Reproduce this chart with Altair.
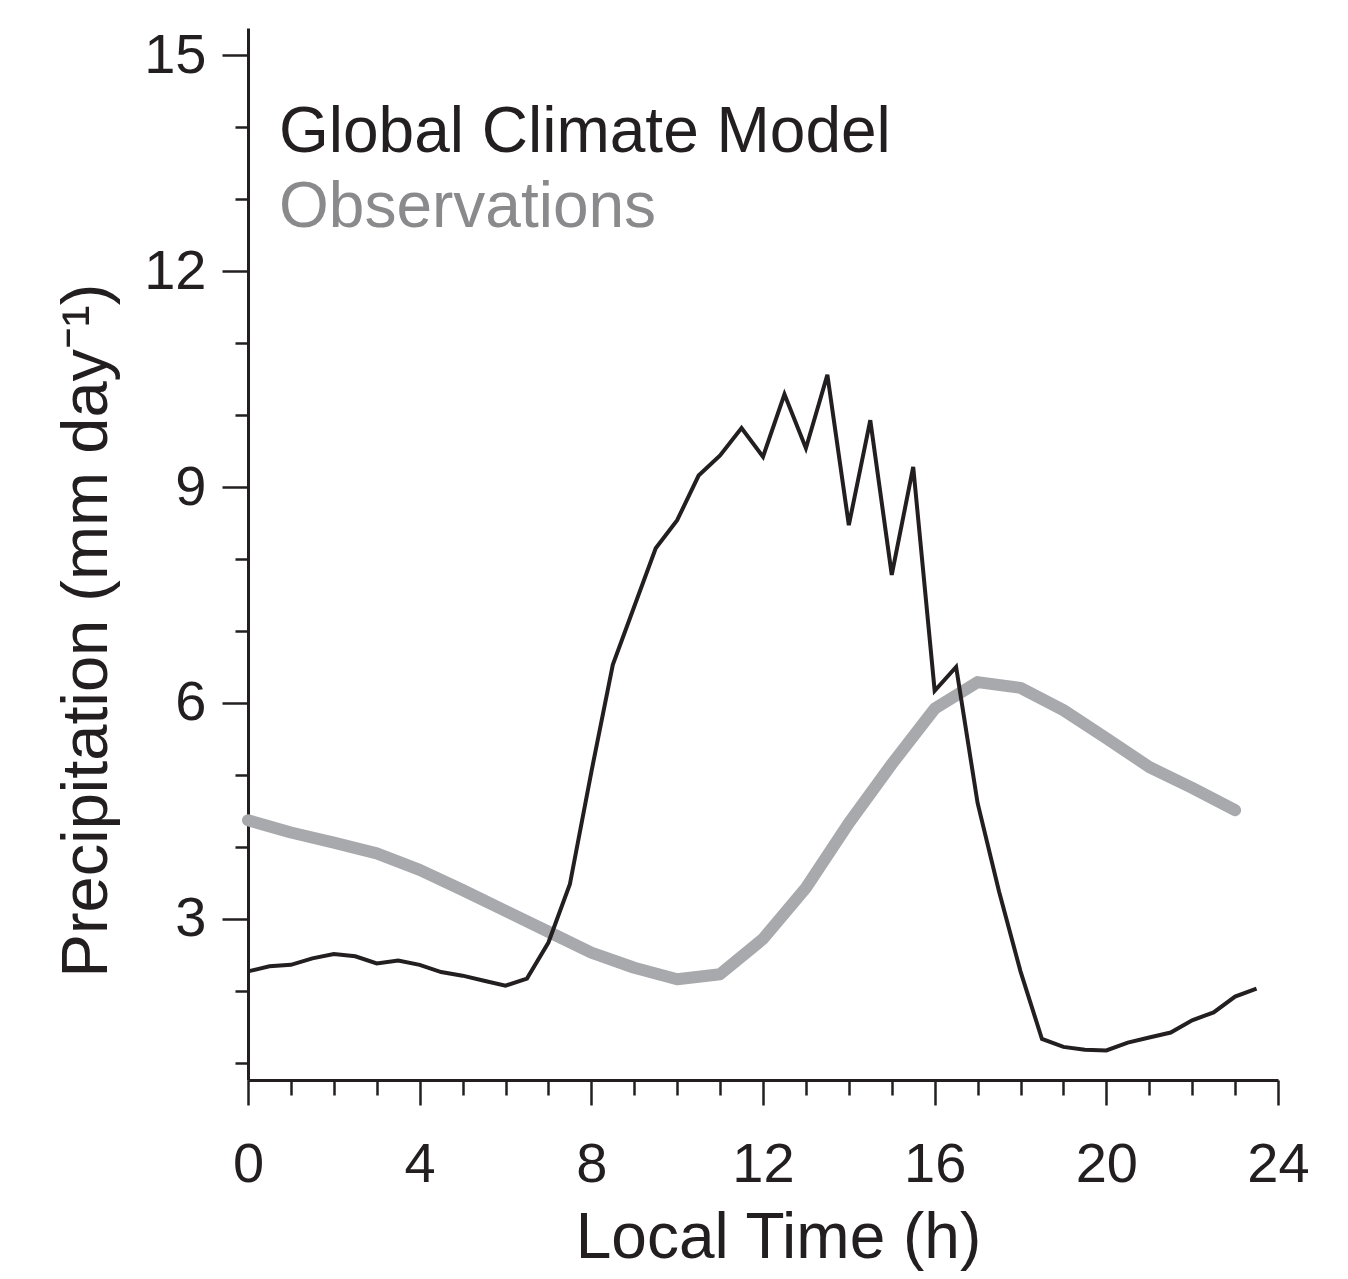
import altair as alt
import pandas as pd

# ---- data ----
gcm_hours = [0, 0.5, 1, 1.5, 2, 2.5, 3, 3.5, 4, 4.5, 5, 5.5, 6, 6.5, 7, 7.5,
             8, 8.5, 9, 9.5, 10, 10.5, 11, 11.5, 12, 12.5, 13, 13.5, 14, 14.5,
             15, 15.5, 16, 16.5, 17, 17.5, 18, 18.5, 19, 19.5, 20, 20.5, 21,
             21.5, 22, 22.5, 23, 23.5]
gcm_precip = [2.27, 2.34, 2.36, 2.45, 2.51, 2.48, 2.38, 2.42, 2.36, 2.26,
              2.21, 2.14, 2.07, 2.17, 2.67, 3.48, 5.04, 6.53, 7.34, 8.15,
              8.54, 9.16, 9.44, 9.82, 9.42, 10.29, 9.54, 10.56, 8.47, 9.93,
              7.78, 9.28, 6.17, 6.50, 4.61, 3.38, 2.27, 1.33, 1.22, 1.18,
              1.17, 1.28, 1.35, 1.42, 1.59, 1.70, 1.92, 2.03]

obs_hours = [0, 1, 2, 3, 4, 5, 6, 7, 8, 9, 10, 11, 12, 13, 14, 15, 16, 17,
             18, 19, 20, 21, 22, 23]
obs_precip = [4.37, 4.20, 4.06, 3.91, 3.68, 3.40, 3.11, 2.82, 2.53, 2.32,
              2.16, 2.23, 2.72, 3.43, 4.33, 5.15, 5.92, 6.29, 6.21, 5.90,
              5.51, 5.11, 4.82, 4.51]

x_ticks = [0, 1, 2, 3, 4, 5, 6, 7, 8, 9, 10, 11, 12, 13, 14, 15, 16, 17, 18,
           19, 20, 21, 22, 23, 24]
y_ticks = [1, 2, 3, 4, 5, 6, 7, 8, 9, 10, 11, 12, 13, 14, 15]

series_names = ["Global Climate Model", "Observations"]

# ---- styling ----
FONT = "Liberation Sans"
INK = "#231f20"
OBS_LINE = "#a7a9ac"
OBS_TEXT = "#8a8a8c"

gcm = pd.DataFrame({"hour": gcm_hours, "precip": gcm_precip})
obs = pd.DataFrame({"hour": obs_hours, "precip": obs_precip})

x_scale = alt.Scale(domain=[0, 24], nice=False, zero=False)
y_scale = alt.Scale(domain=[0.76, 15.38], nice=False, zero=False)

x_axis = alt.Axis(
    values=x_ticks,
    format="d",
    labelExpr="datum.value % 4 === 0 ? datum.label : ''",
    tickSize={"condition": {"test": "datum.value % 4 === 0", "value": 25}, "value": 15},
    tickWidth=2.5,
    tickColor=INK,
    domainColor=INK,
    domainWidth=3,
    grid=False,
    labelFont=FONT,
    labelFontSize=56,
    labelColor=INK,
    labelPadding=32,
    labelFlush=False,
    labelOverlap=False,
    title="Local Time (h)",
    titleFont=FONT,
    titleFontSize=64,
    titleFontWeight="normal",
    titleColor=INK,
    titleX=530,
    titleY=177,
    titleAlign="center",
    titleBaseline="alphabetic",
)

y_axis = alt.Axis(
    values=y_ticks,
    format="d",
    labelExpr="datum.value % 3 === 0 ? datum.label : ''",
    tickSize={"condition": {"test": "datum.value % 3 === 0", "value": 26}, "value": 13},
    tickWidth=2.5,
    tickColor=INK,
    domainColor=INK,
    domainWidth=3,
    grid=False,
    labelFont=FONT,
    labelFontSize=56,
    labelColor=INK,
    labelPadding=16,
    labelFlush=False,
    labelOverlap=False,
    title="Precipitation (mm day⁻¹)",
    titleFont=FONT,
    titleFontSize=65,
    titleFontWeight="normal",
    titleColor=INK,
    titleAngle=270,
    titleAlign="center",
    titleBaseline="alphabetic",
    titleX=-142,
    titleY=602,
)

obs_line = alt.Chart(obs).mark_line(
    color=OBS_LINE, strokeWidth=12, strokeCap="round", strokeJoin="round"
).encode(
    x=alt.X("hour:Q", scale=x_scale, axis=x_axis),
    y=alt.Y("precip:Q", scale=y_scale, axis=y_axis),
)

gcm_line = alt.Chart(gcm).mark_line(
    color=INK, strokeWidth=4, strokeJoin="miter"
).encode(
    x=alt.X("hour:Q", scale=x_scale),
    y=alt.Y("precip:Q", scale=y_scale),
)

label_gcm = alt.Chart(pd.DataFrame({"name": [series_names[0]]})).mark_text(
    font=FONT, fontSize=64, color=INK, align="left", baseline="alphabetic"
).encode(x=alt.value(31), y=alt.value(124), text="name:N")

label_obs = alt.Chart(pd.DataFrame({"name": [series_names[1]]})).mark_text(
    font=FONT, fontSize=64, color=OBS_TEXT, align="left", baseline="alphabetic"
).encode(x=alt.value(31), y=alt.value(199), text="name:N")

chart = alt.layer(obs_line, gcm_line, label_gcm, label_obs).properties(
    width=1030,
    height=1052,
    background="white",
    autosize=alt.AutoSizeParams(type="none"),
    padding={"left": 240, "top": 20, "right": 62, "bottom": 191},
).configure_view(strokeWidth=0, stroke="transparent")

chart.save("out.html", embed_options={"renderer": "svg", "actions": False})
